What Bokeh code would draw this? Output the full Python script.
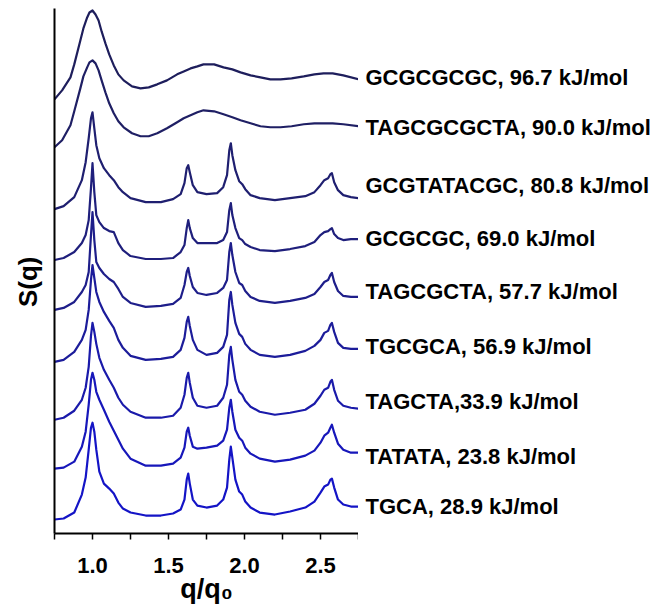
from bokeh.plotting import figure
from bokeh.layouts import row
from bokeh.models import Range1d, FixedTicker, PrintfTickFormatter
from bokeh.core.properties import value
from bokeh.embed import file_html
from bokeh.resources import INLINE

# ---------------- data ----------------
names = ["GCGCGCGC, 96.7 kJ/mol", "TAGCGCGCTA, 90.0 kJ/mol", "GCGTATACGC, 80.8 kJ/mol",
         "GCGCGC, 69.0 kJ/mol", "TAGCGCTA, 57.7 kJ/mol", "TGCGCA, 56.9 kJ/mol",
         "TAGCTA,33.9 kJ/mol", "TATATA, 23.8 kJ/mol", "TGCA, 28.9 kJ/mol"]

x_ticks = [1.0, 1.5, 2.0, 2.5]
x_minor = [0.75, 1.25, 1.75, 2.25, 2.75]

# liquid-like (broad) curves
q_liquid = [0.75, 0.80, 0.855, 0.88, 0.92, 0.94, 0.965, 0.98, 1.0, 1.02, 1.04, 1.06, 1.085,
            1.11, 1.14, 1.17, 1.205, 1.26, 1.316, 1.37, 1.426, 1.49, 1.557, 1.6, 1.645, 1.69,
            1.73, 1.8, 1.862, 1.92, 1.974, 2.04, 2.105, 2.17, 2.237, 2.31, 2.39, 2.46, 2.52,
            2.58, 2.65, 2.75]
s_gcgcgcgc = [435, 444, 457, 470, 494, 506, 517, 522, 524, 520, 514, 503, 491, 480, 469, 460,
              454, 448, 446, 447, 450, 454, 460, 463, 466, 468, 470, 470, 467, 465, 462, 459,
              457, 455, 455, 456, 458, 460, 461, 461, 459, 455]
s_tagcgcgcta = [387, 394, 409, 423, 446, 458, 467, 472, 474, 471, 464, 454, 442, 431, 421, 413,
                407, 401, 398, 398, 401, 406, 412, 416, 419, 422, 424, 423, 420, 417, 414, 411,
                408, 407, 407, 408, 410, 411, 411, 411, 410, 408]

# crystal-like (sharp peak) curves
q_cryst = [0.75, 0.81, 0.88, 0.93, 0.955, 0.975, 0.99, 1.0, 1.012, 1.025, 1.045, 1.075, 1.11,
           1.14, 1.17, 1.2, 1.25, 1.35, 1.45, 1.53, 1.58, 1.605, 1.62, 1.63, 1.64, 1.66, 1.69,
           1.75, 1.82, 1.86, 1.885, 1.9, 1.91, 1.92, 1.94, 1.965, 1.985, 2.005, 2.04, 2.1, 2.2,
           2.3, 2.4, 2.46, 2.5, 2.525, 2.55, 2.565, 2.575, 2.59, 2.615, 2.65, 2.7, 2.75]
s_gcgtatacgc = [325, 328, 337, 354, 372, 396, 416, 422, 406, 389, 376, 366, 359, 354, 347, 342,
                336, 332, 332, 335, 340, 351, 366, 369, 362, 349, 342, 340, 341, 347, 359, 384,
                391, 379, 364, 353, 350, 345, 339, 336, 334, 336, 338, 342, 349, 354, 356, 360,
                361, 352, 344, 339, 337, 336]
s_gcgcgc = [274, 276, 282, 291, 299, 314, 346, 371, 342, 319, 312, 306, 303, 302, 291, 284,
            278, 275, 275, 276, 282, 289, 306, 314, 306, 296, 291, 291, 291, 294, 302, 324,
            331, 319, 306, 296, 294, 290, 287, 284, 283, 285, 288, 292, 299, 302, 303, 305,
            306, 300, 296, 294, 295, 295]
s_tagcgcta = [224, 226, 232, 242, 249, 262, 299, 322, 294, 272, 266, 260, 255, 252, 245, 237,
              231, 227, 228, 230, 236, 249, 262, 266, 258, 247, 241, 239, 241, 246, 254, 282,
              291, 279, 262, 251, 249, 243, 237, 233, 231, 233, 236, 240, 247, 252, 254, 259,
              261, 252, 243, 238, 237, 237]
s_tgcgca = [172, 174, 182, 194, 204, 224, 254, 269, 256, 242, 232, 222, 213, 206, 194, 186,
            178, 174, 175, 177, 184, 196, 212, 217, 208, 194, 184, 179, 181, 187, 199, 234,
            242, 229, 211, 200, 197, 190, 184, 179, 177, 179, 183, 188, 194, 201, 203, 209,
            211, 202, 191, 186, 185, 185]
s_tagcta = [114, 116, 123, 134, 146, 167, 198, 211, 202, 190, 176, 164, 154, 146, 136, 129,
            122, 116, 116, 118, 126, 139, 156, 161, 151, 136, 128, 126, 128, 136, 149, 179,
            187, 174, 154, 142, 139, 133, 127, 122, 119, 121, 124, 130, 138, 144, 146, 152,
            154, 144, 133, 128, 126, 125]
s_tatata = [65, 66, 72, 87, 102, 129, 154, 161, 154, 142, 134, 124, 112, 103, 94, 85,
            75, 68, 68, 70, 76, 86, 102, 106, 98, 87, 85, 86, 88, 93, 104, 126,
            134, 122, 104, 96, 93, 86, 80, 75, 72, 74, 78, 83, 91, 98, 101, 106,
            109, 101, 90, 84, 81, 81]
s_tgca = [14, 15, 21, 39, 56, 84, 106, 111, 102, 84, 62, 50, 45, 40, 31, 25,
          21, 18, 18, 20, 24, 34, 54, 60, 50, 34, 28, 26, 28, 34, 46, 74,
          87, 76, 54, 42, 39, 32, 26, 21, 19, 22, 26, 32, 41, 47, 49, 54,
          55, 46, 34, 29, 27, 27]

# ---------------- layout / style ----------------
colors = ["#1e1e5c", "#1f1f64", "#1f1f70", "#1f1f7c", "#1e1e8a", "#1c1c9a", "#1a1aaa",
          "#1717ba", "#1414c6"]
label_y = [457, 407, 349, 296, 242, 187, 132, 77, 27]   # text centre heights

FONT = "Liberation Sans"
Y0, Y1 = 0, 526

p = figure(width=358, height=606, x_range=Range1d(0.75, 2.75), y_range=Range1d(Y0, Y1),
           output_backend="svg", toolbar_location=None,
           min_border_left=54, min_border_right=0, min_border_top=8, min_border_bottom=72)
p.outline_line_color = None
p.xgrid.visible = False
p.ygrid.visible = False
p.background_fill_color = "white"
p.border_fill_color = "white"

series = [(q_liquid, s_gcgcgcgc), (q_liquid, s_tagcgcgcta), (q_cryst, s_gcgtatacgc),
          (q_cryst, s_gcgcgc), (q_cryst, s_tagcgcta), (q_cryst, s_tgcgca),
          (q_cryst, s_tagcta), (q_cryst, s_tatata), (q_cryst, s_tgca)]
for (qq, ss), c in zip(series, colors):
    p.line(qq, ss, line_color=c, line_width=2.2, line_join="round")

# x axis
xa = p.xaxis[0]
xa.ticker = FixedTicker(ticks=x_ticks, minor_ticks=x_minor)
xa.formatter = PrintfTickFormatter(format="%.1f")
xa.axis_line_width = 2
xa.axis_line_color = "black"
xa.major_tick_line_width = 1.5
xa.minor_tick_line_width = 1.5
xa.major_tick_in = 0
xa.major_tick_out = 6
xa.minor_tick_in = 0
xa.minor_tick_out = 6
xa.major_label_text_font = FONT
xa.major_label_text_font_style = "bold"
xa.major_label_text_font_size = "22px"
xa.major_label_text_color = "black"
xa.major_label_standoff = 18
xa.axis_label = "q/q\u2080"
xa.axis_label_text_font = FONT
xa.axis_label_text_font_style = "bold"
xa.axis_label_text_font_size = "27px"
xa.axis_label_text_color = "black"
xa.axis_label_standoff = -2

# y axis: just a line plus title
ya = p.yaxis[0]
ya.ticker = FixedTicker(ticks=[])
ya.axis_line_width = 2
ya.axis_line_color = "black"
ya.major_tick_line_color = None
ya.minor_tick_line_color = None
ya.major_tick_out = 0
ya.major_tick_in = 0
ya.major_label_standoff = 0
ya.major_label_text_color = None
ya.axis_label = "S(q)\u00a0\u00a0\u00a0"
ya.axis_label_text_font = FONT
ya.axis_label_text_font_style = "bold"
ya.axis_label_text_font_size = "26px"
ya.axis_label_text_color = "black"
ya.axis_label_standoff = 12

# right-hand panel carrying the curve names, sharing the y scale
pr = figure(width=298, height=606, x_range=Range1d(0, 298), y_range=p.y_range,
            output_backend="svg", toolbar_location=None,
            x_axis_location=None, y_axis_location=None,
            min_border_left=0, min_border_right=0, min_border_top=8, min_border_bottom=72)
pr.outline_line_color = None
pr.xgrid.visible = False
pr.ygrid.visible = False
pr.background_fill_color = "white"
pr.border_fill_color = "white"
pr.text(x=[7] * len(names), y=label_y, text=names, text_font=value(FONT),
        text_font_style="bold", text_font_size="22px", text_color="black",
        text_baseline="middle", text_align="left")

layout = row(p, pr)
open("out.html", "w").write(file_html(layout, INLINE))
